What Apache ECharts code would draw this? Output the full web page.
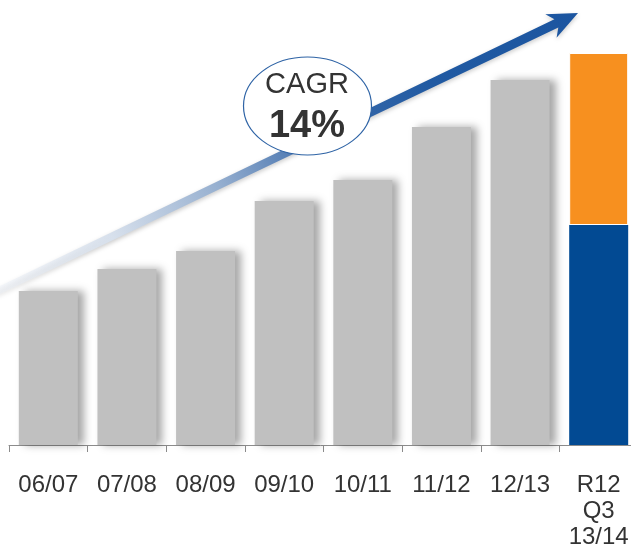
<!DOCTYPE html>
<html>
<head>
<meta charset="utf-8">
<script src="https://cdn.jsdelivr.net/npm/echarts@6/dist/echarts.min.js"></script>
<style>
  html, body { margin: 0; padding: 0; background: #fff; }
  #chart { width: 631px; height: 552px; }
</style>
</head>
<body>
<div id="chart"></div>
<script>
// values (arbitrary units)
var years = ['06/07', '07/08', '08/09', '09/10', '10/11', '11/12', '12/13', 'R12\nQ3\n13/14'];
var histValues = [154, 176, 194, 244, 265, 318, 365, null];
var r12Base = [null, null, null, null, null, null, null, 220];
var r12Top = [null, null, null, null, null, null, null, 172];
var cagrText = ['CAGR', '14%'];

var myChart = echarts.init(document.getElementById('chart'));

// arrow shape (decoration only)
function arrowPoints(tail, tip, half, headLen, headHalf) {
  var dx = tip[0] - tail[0], dy = tip[1] - tail[1];
  var len = Math.sqrt(dx * dx + dy * dy);
  var ux = dx / len, uy = dy / len;
  var nx = -uy, ny = ux;
  var bx = tip[0] - ux * headLen, by = tip[1] - uy * headLen;
  var notch = 6;
  var sx = bx + ux * notch, sy = by + uy * notch;
  return [
    [tail[0] + nx * half * 0.8, tail[1] + ny * half * 0.8],
    [sx + nx * half, sy + ny * half],
    [bx + nx * headHalf, by + ny * headHalf],
    tip,
    [bx - nx * headHalf, by - ny * headHalf],
    [sx - nx * half, sy - ny * half],
    [tail[0] - nx * half * 0.8, tail[1] - ny * half * 0.8]
  ];
}

var tail = [-4, 292], tip = [578, 13];

var option = {
  animation: false,
  grid: { left: 9, top: 45, width: 629, height: 400, outerBoundsMode: 'none' },
  xAxis: {
    type: 'category',
    data: years,
    axisLine: { lineStyle: { color: '#8c8c8c', width: 1 } },
    axisTick: { show: true, length: 7, lineStyle: { color: '#8c8c8c' } },
    axisLabel: {
      color: '#333',
      fontFamily: 'Liberation Sans, Arial, sans-serif',
      fontSize: 24,
      lineHeight: 26,
      margin: 27,
      interval: 0
    }
  },
  yAxis: {
    type: 'value', min: 0, max: 400, show: false,
    splitLine: { show: false }
  },
  series: [
    {
      type: 'bar', data: histValues, barWidth: 59, stack: 'a',
      itemStyle: {
        color: '#c0c0c0',
        shadowColor: 'rgba(0,0,0,0.35)', shadowBlur: 8, shadowOffsetX: 6, shadowOffsetY: 0
      }
    },
    {
      type: 'bar', data: r12Base, barWidth: 59, stack: 'a',
      itemStyle: { color: '#024a93' }
    },
    {
      type: 'bar', data: r12Top, barWidth: 59, stack: 'a',
      itemStyle: { color: '#f7901f', borderColor: '#fff', borderWidth: 1 }
    }
  ],
  graphic: [
    {
      type: 'polygon', z: 50,
      shape: { points: arrowPoints(tail, tip, 4.5, 30, 13) },
      style: {
        fill: new echarts.graphic.LinearGradient(tail[0], tail[1], tip[0], tip[1], [
          { offset: 0, color: 'rgba(235,240,248,0.4)' },
          { offset: 0.2, color: '#d7e0ec' },
          { offset: 0.38, color: '#97b0d0' },
          { offset: 0.55, color: '#3d6cab' },
          { offset: 0.75, color: '#215aa2' },
          { offset: 1, color: '#1b55a0' }
        ], true),
        shadowColor: 'rgba(0,0,0,0.2)', shadowBlur: 4, shadowOffsetY: 2
      }
    },
    {
      type: 'ellipse', z: 60,
      shape: { cx: 307.5, cy: 106, rx: 64, ry: 49 },
      style: { fill: '#fff', stroke: '#2e63a5', lineWidth: 1.2 }
    },
    {
      type: 'text', z: 61, x: 307, y: 85,
      style: {
        text: cagrText[0], fill: '#333', align: 'center', verticalAlign: 'middle',
        font: '29px "Liberation Sans", Arial, sans-serif'
      }
    },
    {
      type: 'text', z: 61, x: 307, y: 127,
      style: {
        text: cagrText[1], fill: '#333', align: 'center', verticalAlign: 'middle',
        font: 'bold 38px "Liberation Sans", Arial, sans-serif'
      }
    }
  ]
};

myChart.setOption(option);
</script>
</body>
</html>
